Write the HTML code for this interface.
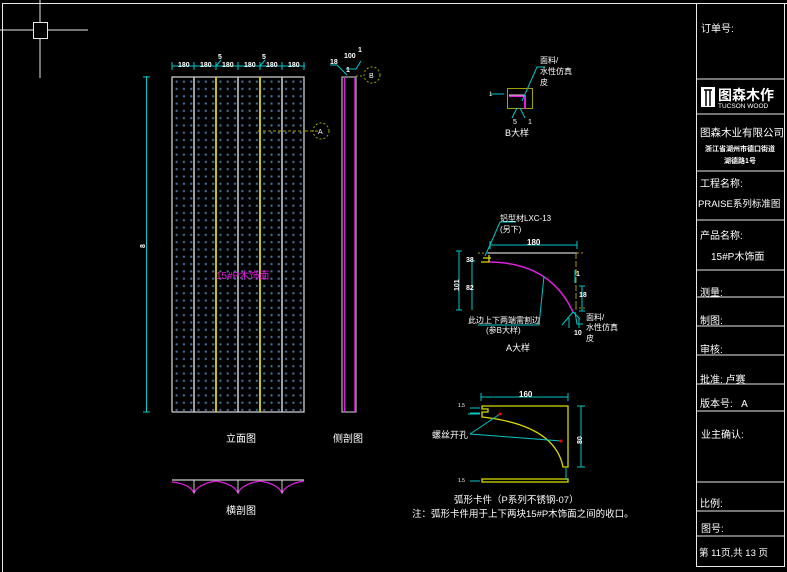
<!DOCTYPE html>
<html><head><meta charset="utf-8"><style>
html,body{margin:0;padding:0;background:#000;}
body{position:relative;width:787px;height:572px;overflow:hidden;}
svg{display:block;}
text{font-family:"Liberation Sans","Noto Sans CJK SC",sans-serif;fill:#fff;}
#dots{position:absolute;left:173px;top:78px;width:131px;height:333px;
background-image:radial-gradient(circle,#456a94 0,#456a94 0.9px,transparent 1.5px);
background-size:7.3px 7.3px;}
</style></head><body>
<svg width="787" height="572" viewBox="0 0 787 572" xmlns="http://www.w3.org/2000/svg">
<rect width="787" height="572" fill="#000"/>
<g stroke="#e8e8e8" fill="none" stroke-width="1">
<path d="M2.5 572V3.5H787"/>
<rect x="696.5" y="3.5" width="88" height="563"/>
<path d="M696 79H784M696 114H784M696 171H784M696 220H784M696 270H784M696 297H784M696 326H784M696 355H784M696 384H784M696 411H784M696 482H784M696 511H784M696 536H784"/>
<path d="M40 0V78M0 30H88"/>
<rect x="33.5" y="22.5" width="14" height="16" fill="#000"/>
</g>
<g font-size="10">
<text x="701" y="32">订单号:</text>
<text x="700" y="136" font-size="10.5">图森木业有限公司</text>
<text x="740" y="151" font-size="7" text-anchor="middle" font-weight="bold">浙江省湖州市德口街道</text>
<text x="740" y="163" font-size="7" text-anchor="middle" font-weight="bold">湖德路1号</text>
<text x="700" y="187">工程名称:</text>
<text x="698" y="207" font-size="9.5">PRAISE系列标准图</text>
<text x="700" y="239">产品名称:</text>
<text x="711" y="260">15#P木饰面</text>
<text x="700" y="296">测量:</text>
<text x="700" y="324">制图:</text>
<text x="700" y="353">审核:</text>
<text x="700" y="383">批准: 卢赛</text>
<text x="700" y="407">版本号:&#160;&#160;&#160;A</text>
<text x="701" y="438">业主确认:</text>
<text x="700" y="507">比例:</text>
<text x="701" y="532">图号:</text>
<text x="699" y="556" font-size="9.5">第 11页,共 13 页</text>
</g>
<rect x="701" y="87" width="14" height="20" fill="#fff"/>
<path d="M704 90h8M706 90v16M710 90v16" stroke="#000" stroke-width="1.5"/>
<text x="718" y="100" font-size="14" font-weight="bold">图森木作</text>
<text x="718" y="108" font-size="6.5">TUCSON WOOD</text>

<g stroke="#cfcfcf" stroke-width="1.3" fill="none">
<path d="M172 412V77H304V412H172M194 77V412M238 77V412M282 77V412"/>
</g>
<path d="M216 77V412M260 77V412" stroke="#d8d800" stroke-width="1.6"/>
<g stroke="#00c8c8" stroke-width="1">
<path d="M172 66H305M172 62v8M194 62v8M216 62v8M238 62v8M260 62v8M282 62v8M304 62v8"/>
<path d="M146.5 76V412M143 77h7M143 412h7"/>
<path d="M216 66l5-6M260 66l5-6"/>
</g>
<g font-size="7" font-weight="bold">
<text x="178" y="67">180</text><text x="200" y="67">180</text><text x="222" y="67">180</text><text x="244" y="67">180</text><text x="266" y="67">180</text><text x="288" y="67">180</text>
<text x="218" y="59">5</text><text x="262" y="59">5</text>
<text x="140" y="247" transform="rotate(-90 143 245)">8</text>
</g>
<path d="M258 131H305M305 131H320" stroke="#a0a000" stroke-dasharray="3 2"/>
<circle cx="321" cy="131" r="8" fill="none" stroke="#a0a000" stroke-dasharray="2 2"/>
<text x="318" y="134" font-size="7">A</text>
<rect x="342" y="77" width="14" height="335" fill="none" stroke="#aaa" stroke-width="1.3"/>
<path d="M344.5 78V412M355 78V412" stroke="#e020e0" stroke-width="1.5"/>
<circle cx="372" cy="75" r="8" fill="none" stroke="#a0a000" stroke-dasharray="2 2"/>
<text x="369" y="78" font-size="7">B</text>
<path d="M356 76H364" stroke="#a0a000" stroke-dasharray="2 2"/>
<g stroke="#00c8c8" fill="none"><path d="M330 65h7l10 10M346 69h10l5-8"/></g>
<text x="330" y="64" font-size="7" font-weight="bold">18</text>
<text x="344" y="58" font-size="7" font-weight="bold">100</text>
<text x="358" y="52" font-size="7" font-weight="bold">1</text>
<text x="346" y="72" font-size="7" font-weight="bold">1</text>
<text x="226" y="442" font-size="10">立面图</text>
<text x="333" y="442" font-size="10">侧剖图</text>
<text x="226" y="514" font-size="10">横剖图</text>
<path d="M172 480H304" stroke="#ccc" stroke-width="1.3"/>
<path d="M172 482Q190 484 194 493Q198 484 216 481M216 481Q234 484 238 493Q242 484 260 481M260 481Q278 484 282 493Q286 484 304 481" stroke="#e020e0" fill="none" stroke-width="1.2"/>
<path d="M194 480V493M238 480V493M282 480V493" stroke="#ccc"/>
<rect x="507.5" y="88.5" width="25" height="20" fill="none" stroke="#a0a000"/>
<path d="M509 96H525V109" stroke="#e020e0" stroke-width="2" fill="none"/>
<path d="M509 95H524" stroke="#ccc"/>
<g stroke="#00c8c8" fill="none">
<path d="M490 94h14M522 101L537 67H545M517 108l-5 10M520 108l5 10"/>
</g>
<text x="540" y="63" font-size="8">面料/</text>
<text x="540" y="74" font-size="8">水性仿真</text>
<text x="540" y="85" font-size="8">皮</text>
<text x="489" y="96" font-size="6">1</text>
<text x="513" y="124" font-size="7">5</text><text x="528" y="124" font-size="7">1</text>
<text x="505" y="136" font-size="9">B大样</text>
<path d="M488 253H577" stroke="#ccc" stroke-width="1.2"/>
<path d="M478 253H488M577 253H585M575 308h10" stroke="#a0a000" stroke-dasharray="2 2"/>
<path d="M576 253V310" stroke="#a0a000" stroke-dasharray="6 2"/>
<path d="M488 262Q550 262 573 312" stroke="#e020e0" fill="none" stroke-width="1.5"/>
<path d="M481 262H489M489 255V262M483 258h8" stroke="#d8d800" stroke-width="1.3" fill="none"/>
<g stroke="#00c8c8" fill="none">
<path d="M490 245L500 222H516M490 245L485 256"/>
<path d="M490 245H577M490 241v8M577 241v8"/>
<path d="M459 251V310M456 251h6M456 310h6M472 261V310M469 261h6"/>
<path d="M582 286V311M579 286h6M579 311h6M575 270V283"/>
<path d="M544 276L539 325H478M573 312L562 325M575 312l2 12H583M573 312L580 319"/>
<path d="M569 318v10M579 318v10"/>
</g>
<text x="500" y="221" font-size="8">铝型材LXC-13</text>
<text x="500" y="232" font-size="8">(另下)</text>
<text x="527" y="245" font-size="8" font-weight="bold">180</text>
<text x="448" y="286" font-size="7" font-weight="bold" transform="rotate(-90 456 283)">101</text>
<text x="466" y="262" font-size="7" font-weight="bold">38</text>
<text x="466" y="290" font-size="7" font-weight="bold">82</text>
<text x="579" y="297" font-size="7" font-weight="bold">18</text>
<text x="576" y="276" font-size="7" font-weight="bold">1</text>
<text x="574" y="335" font-size="7" font-weight="bold">10</text>
<text x="468" y="323" font-size="8">此边上下两端需割边</text>
<text x="486" y="333" font-size="8">(参B大样)</text>
<text x="586" y="320" font-size="8">面料/</text>
<text x="586" y="330" font-size="8">水性仿真</text>
<text x="586" y="341" font-size="8">皮</text>
<text x="506" y="351" font-size="9">A大样</text>
<g stroke="#d8d800" stroke-width="1.3" fill="none">
<path d="M482 406H568V467H563Q555 425 482 417V412H488V409H482Z"/>
<rect x="482" y="479" width="86" height="3"/>
</g>
<g stroke="#00c8c8" fill="none">
<path d="M481 397H568M481 393v8M568 393v8"/>
<path d="M581 406V467M577 406h8M577 467h8"/>
<path d="M470 408h10M470 413h10M468 414h12M470 481h10"/>
<path d="M470 434L500 414M470 434L561 441M566 468v12"/>
</g>
<circle cx="500" cy="414" r="1.5" fill="#f00"/><circle cx="561" cy="441" r="1.5" fill="#f00"/>
<text x="519" y="397" font-size="8" font-weight="bold">160</text>
<text x="572" y="440" font-size="7" font-weight="bold" transform="rotate(-90 579 437)">80</text>
<text x="458" y="407" font-size="5">1.5</text>
<text x="458" y="482" font-size="5">1.5</text>
<text x="432" y="438" font-size="9">螺丝开孔</text>
<text x="454" y="503" font-size="9.5">弧形卡件（P系列不锈钢-07）</text>
<text x="412" y="517" font-size="9.5">注：弧形卡件用于上下两块15#P木饰面之间的收口。</text>
</svg>
<div id="dots"></div>
<svg width="787" height="572" style="position:absolute;left:0;top:0" xmlns="http://www.w3.org/2000/svg">
<path d="M194 77V412M238 77V412M282 77V412" stroke="#cfcfcf" stroke-width="1.3"/>
<path d="M216 77V412M260 77V412" stroke="#d8d800" stroke-width="1.6"/>
<text x="216" y="279" font-size="10" style="fill:#e020e0">15#P木饰面</text>
</svg>
</body></html>
